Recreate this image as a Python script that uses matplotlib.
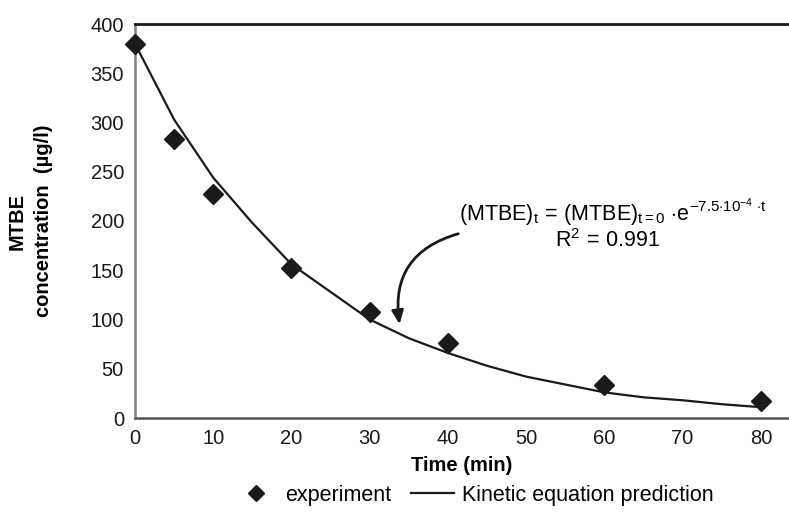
import matplotlib
matplotlib.use("Agg")
import matplotlib.pyplot as plt
from matplotlib.lines import Line2D

plt.rcParams['font.family'] = ['Liberation Sans', 'DejaVu Sans']
plt.rcParams['mathtext.fontset'] = 'custom'
plt.rcParams['mathtext.rm'] = 'Liberation Sans'
plt.rcParams['mathtext.it'] = 'Liberation Sans'
plt.rcParams['mathtext.bf'] = 'Liberation Sans:bold'

# Experimental data
exp_time = [0, 5, 10, 20, 30, 40, 60, 80]
exp_conc = [380, 283, 227, 152, 108, 76, 34, 17]

# Kinetic equation prediction
pred_time = [0, 5, 10, 15, 20, 25, 30, 35, 40, 45, 50, 55, 60, 65, 70, 75, 80]
pred_conc = [380, 303, 244, 198, 156, 128, 100, 81, 66, 53, 42, 34, 26, 21, 18, 14, 11]

x_ticks = [0, 10, 20, 30, 40, 50, 60, 70, 80]
y_ticks = [0, 50, 100, 150, 200, 250, 300, 350, 400]

fig = plt.figure(figsize=(7.89, 5.20), dpi=100)
ax = fig.add_axes([135/789, 102/520, 1 - 135/789, (418-24)/520])

ax.plot(pred_time, pred_conc, color='#1a1a1a', lw=1.6, zorder=2)
ax.plot(exp_time, exp_conc, linestyle='none', marker='D', ms=10,
        color='#1a1a1a', zorder=3, clip_on=False)

ax.set_xlim(0, 83.6)
ax.set_ylim(0, 400)
ax.set_xticks(x_ticks)
ax.set_yticks(y_ticks)
ax.tick_params(length=0, labelsize=14.5, pad=8, colors='#1a1a1a')

ax.spines['right'].set_visible(False)
ax.spines['top'].set_color('#1a1a1a')
ax.spines['top'].set_linewidth(2.0)
ax.spines['left'].set_color('#808080')
ax.spines['left'].set_linewidth(1.8)
ax.spines['bottom'].set_color('#555555')
ax.spines['bottom'].set_linewidth(1.8)

ax.set_xlabel('Time (min)', fontsize=14.5, fontweight='bold', labelpad=6)
fig.text(30/789, (520-221)/520, 'MTBE\nconcentration  (µg/l)', rotation=90,
         fontsize=14.5, fontweight='bold', ha='center', va='center',
         multialignment='center', linespacing=1.5)

fig.text(613/789, 1 - 212/520,
         r'$\mathrm{(MTBE)_t\,=\,(MTBE)_{t=0}\ {\cdot}e^{-7.5{\cdot}10^{-4}\ {\cdot}t}}$',
         fontsize=15.5, ha='center', va='center')
fig.text(608/789, 1 - 241/520, r'$\mathrm{R^2\,=\,0.991}$', fontsize=15.5,
         ha='center', va='center')

ax.annotate('', xy=(400/789, 1 - 327/520), xycoords='figure fraction',
            xytext=(461/789, 1 - 233/520), textcoords='figure fraction',
            arrowprops=dict(arrowstyle='-|>,head_length=0.8,head_width=0.35',
                            color='#1a1a1a', lw=2.0,
                            connectionstyle='arc3,rad=0.45'))

handles = [Line2D([], [], linestyle='none', marker='D', ms=8, color='#1a1a1a'),
           Line2D([], [], color='#1a1a1a', lw=1.6)]
fig.legend(handles, ['experiment', 'Kinetic equation prediction'],
           loc='center', bbox_to_anchor=(474/789, 1 - 495/520), ncol=2,
           frameon=False, fontsize=15.5, handlelength=2.0, handletextpad=0.35,
           columnspacing=0.9)

fig.savefig('out.png', dpi=100)
